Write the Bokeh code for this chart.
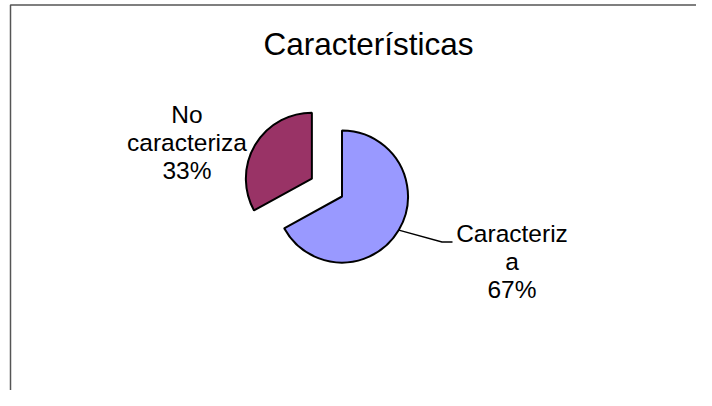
import numpy as np
from bokeh.plotting import figure
from bokeh.models import Range1d, ColumnDataSource
from bokeh.core.properties import value
from bokeh.embed import file_html
from bokeh.resources import INLINE

# ---- data ----
title_text = "Características"
categories = ["Caracteriza", "No caracteriza"]
shares = [67, 33]
label_lines = [["Caracteriz", "a"], ["No", "caracteriza"]]
colors = ["#9999FF", "#993366"]

# ---- layout helpers (pixel -> data) ----
W, H = 696, 390
OX, OY = 0, 0


def X(px):
    return px - OX


def Y(py):
    return (OY + H) - py


FONT = value("Liberation Sans")

p = figure(width=W, height=H, x_range=Range1d(0, W), y_range=Range1d(0, H),
           output_backend="svg", toolbar_location=None,
           x_axis_location=None, y_axis_location=None,
           min_border=0, outline_line_color=None)
p.grid.visible = False
p.background_fill_color = "white"
p.border_fill_color = "white"

# chart-area frame (left and top edges visible)
p.line([X(10), X(10), X(900)], [Y(600), Y(4.5), Y(4.5)],
       line_color="#555555", line_width=1.5)

# title
p.text(x=[X(368)], y=[Y(43)], text=[title_text], text_font=FONT,
       text_font_size="31.5px", text_align="center", text_baseline="middle",
       text_color="black")

# ---- pie ----
vals = np.array(shares, dtype=float)
frac = vals / vals.sum()
cum = np.concatenate([[0.0], np.cumsum(frac)])
start = np.pi / 2 - 2 * np.pi * cum[:-1]
end = np.pi / 2 - 2 * np.pi * cum[1:]
mid = (start + end) / 2

R = 66
cx0, cy0 = X(341.5), Y(196)
explode = np.array([0.0, 35.0])
cx = cx0 + explode * np.cos(mid)
cy = cy0 + explode * np.sin(mid)

src = ColumnDataSource(dict(x=cx, y=cy, start=start, end=end, color=colors,
                            cat=categories))
p.wedge(x="x", y="y", radius=R, start_angle="start", end_angle="end",
        direction="clock", fill_color="color", line_color="black",
        line_width=2, source=src)

# ---- labels ----
label_pos = [(511.5, 233), (186.5, 114)]
LS = 28
for i, (lx, ly) in enumerate(label_pos):
    lines = label_lines[i] + [f"{shares[i]}%"]
    p.text(x=[X(lx)] * len(lines), y=[Y(ly + LS * k) for k in range(len(lines))],
           text=lines, text_font=FONT, text_font_size="24.5px",
           text_align="center", text_baseline="middle", text_color="black")

# leader line for first slice
sx = cx[0] + R * np.cos(mid[0])
sy = cy[0] + R * np.sin(mid[0])
p.line([sx, X(441.5), X(452)], [sy, Y(241.5), Y(241.5)],
       line_color="black", line_width=1.3)

open("out.html", "w").write(file_html(p, INLINE))
